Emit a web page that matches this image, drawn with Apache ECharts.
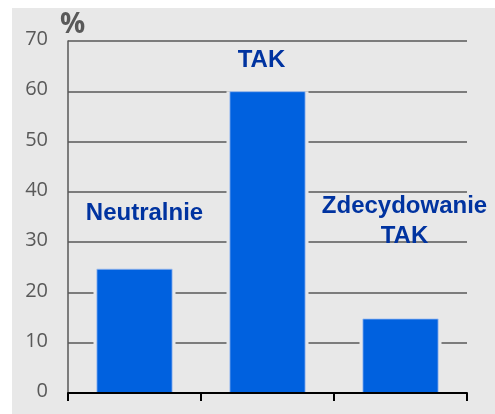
<!DOCTYPE html>
<html>
<head>
<meta charset="utf-8">
<script src="https://cdn.jsdelivr.net/npm/echarts@6/dist/echarts.min.js"></script>
<style>
html,body{margin:0;padding:0;background:#fff;}
#c{width:495px;height:414px;}
</style>
</head>
<body>
<div id="c"></div>
<script>
const categories = ['Neutralnie', 'TAK', 'Zdecydowanie\nTAK'];
const values = [24.7, 60, 14.8];
const yTicks = { min: 0, max: 70, interval: 10 };
const axisName = '%';

const labelLayout = [
  { distance: 40, offset: [10, 0] },
  { distance: 16, offset: [-6, 0] },
  { distance: 67, offset: [4, 0] }
];

const chart = echarts.init(document.getElementById('c'), null, { renderer: 'canvas' });
chart.setOption({
  animation: false,
  backgroundColor: '#ffffff',
  graphic: [{
    type: 'rect', z: -10, silent: true,
    shape: { x: 12, y: 8, width: 483, height: 406 },
    style: { fill: '#e8e8e8' }
  }],
  grid: { left: 68, right: 28, top: 41, bottom: 21, containLabel: false },
  xAxis: [{
    type: 'category',
    data: categories,
    z: 5,
    axisLine: { lineStyle: { color: '#000', width: 2 } },
    axisTick: { show: true, length: 8, lineStyle: { color: '#000', width: 2 } },
    axisLabel: { show: false },
    splitLine: { show: false }
  }, {
    type: 'category',
    data: categories,
    show: false
  }],
  yAxis: {
    type: 'value',
    min: yTicks.min, max: yTicks.max, interval: yTicks.interval,
    name: axisName,
    nameLocation: 'end',
    nameGap: 2,
    nameTextStyle: {
      fontFamily: 'Open Sans', fontSize: 28, fontWeight: 'bold', color: '#595959',
      align: 'center', verticalAlign: 'bottom', padding: [0, 0, 0, 9]
    },
    axisLine: { show: true, lineStyle: { color: '#595959', width: 1.5 } },
    axisTick: { show: false },
    axisLabel: {
      fontFamily: 'Open Sans', fontSize: 20, color: '#595959', margin: 20,
      verticalAlign: 'bottom', lineHeight: 3
    },
    splitLine: { show: true, lineStyle: { color: '#595959', width: 1.5 } }
  },
  series: [{
    type: 'bar',
    xAxisIndex: 1,
    barWidth: 82,
    z: 1,
    silent: true,
    data: values,
    itemStyle: { color: '#e8e8e8' },
    label: { show: false }
  }, {
    type: 'bar',
    xAxisIndex: 0,
    barWidth: 76,
    z: 2,
    data: values.map((v, i) => ({
      value: v,
      label: { distance: labelLayout[i].distance, offset: labelLayout[i].offset }
    })),
    itemStyle: { color: '#0061df', borderColor: '#9dbdf0', borderWidth: 0.8 },
    label: {
      show: true,
      position: 'top',
      formatter: p => categories[p.dataIndex],
      fontFamily: 'Liberation Sans',
      fontWeight: 'bold',
      fontSize: 24,
      lineHeight: 30,
      color: '#0033a0',
      align: 'center'
    }
  }]
});
</script>
</body>
</html>
